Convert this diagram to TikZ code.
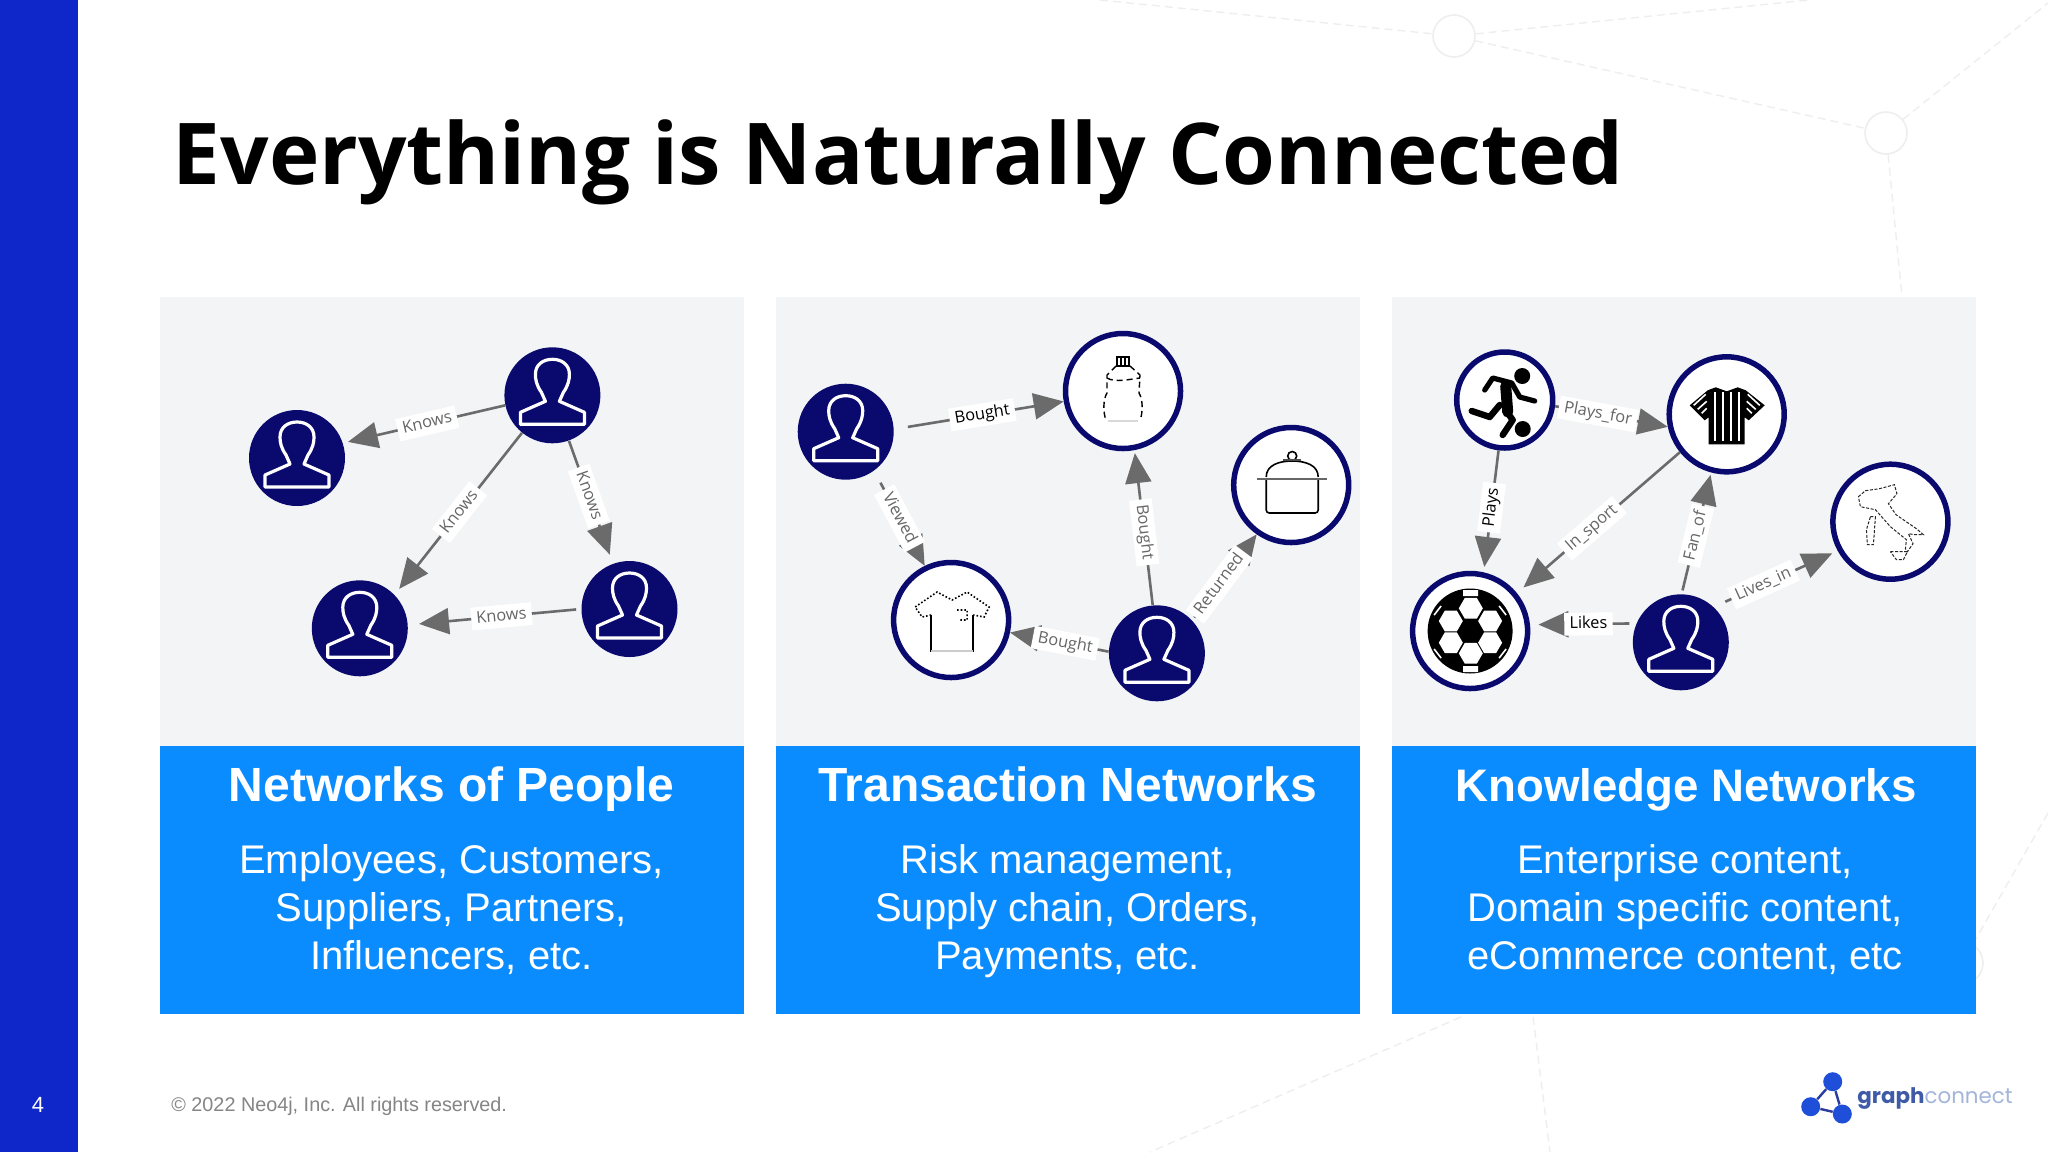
\documentclass[tikz,border=0pt]{standalone}
\usepackage{fontspec}
\setmainfont{Liberation Sans}
\newfontfamily\opensans{Open Sans}
\newfontfamily\logofont{Poppins}
\usetikzlibrary{arrows.meta}

\definecolor{bandblue}{HTML}{0F27C9}
\definecolor{boxblue}{HTML}{0A8CFF}
\definecolor{panelgrey}{HTML}{F3F4F5}
\definecolor{nodenavy}{HTML}{0A0A6E}
\definecolor{edgegrey}{HTML}{6B6B6B}
\definecolor{faintgrey}{HTML}{EDEFEF}
\definecolor{logoblue}{HTML}{1F4FD8}
\definecolor{logodark}{HTML}{2A3C9C}
\definecolor{graphblue}{HTML}{3F5BA8}
\definecolor{connectblue}{HTML}{A3B6DA}

\tikzset{
  panel/.style={fill=panelgrey},
  bluebox/.style={fill=boxblue},
  person node/.style={circle,fill=nodenavy,minimum size=48pt,inner sep=0pt},
  item node/.style={circle,fill=white,draw=nodenavy,line width=2.75pt,minimum size=57.5pt,inner sep=0pt},
  small item/.style={item node,minimum size=48pt},
  logo dot/.style={circle,fill=logoblue,minimum size=9.5pt,inner sep=0pt},
  edge/.style={draw=edgegrey,line width=1.3pt,-{Triangle[length=15pt,width=13pt]}},
  edgelabel/.style={fill=white,sloped,font=\opensans\fontsize{8.2}{10}\selectfont,text=#1,
    inner xsep=2.6pt,inner ysep=1.5pt,text height=6.4pt,text depth=2pt},
  edgelabel/.default=edgegrey!95!black,
  headtext/.style={text=white,font=\bfseries\fontsize{24}{28}\selectfont,anchor=base},
  bodytext/.style={text=white,font=\fontsize{20}{24}\selectfont,anchor=base},
  faintline/.style={draw=faintgrey,line width=.7pt,dash pattern=on 4pt off 2.5pt},
  faintdot/.style={circle,draw=faintgrey,line width=.8pt,minimum size=21pt,inner sep=0pt},
  % icons, drawn around the centre of their node
  person/.pic={
    \draw[white,line width=1.6pt,line join=round]
      (-32,29) -- (-32,17) -- (-7,6) -- (-11,-3)
      .. controls (-16,-10) and (-17,-16) .. (-17,-21)
      .. controls (-17,-31) and (-9,-36) .. (0,-36)
      .. controls (9,-36) and (17,-31) .. (17,-21)
      .. controls (17,-16) and (16,-10) .. (11,-3)
      -- (7,6) -- (32,17) -- (32,29) -- cycle;
  },
  bottle/.pic={
    \draw[black,line width=.7pt] (-6,-34) rectangle (6,-25) (-2,-34) -- (-2,-25) (2,-34) -- (2,-25);
    \draw[black,line width=.7pt,densely dashed]
      (-7,-25) -- (-16,-16) -- (-16,2) .. controls (-20,8) and (-20,22) .. (-17,29)
      (7,-25) -- (17,-16) -- (16,2) .. controls (20,8) and (20,22) .. (17,29)
      (-16,-13) .. controls (-8,-8) and (8,-12) .. (17,-13);
    \draw[black!15,line width=1pt] (-15,30) -- (15,30);
  },
  shirt/.pic={
    \draw[black,line width=.7pt] (-20,-5) -- (-20,32) (22,-5) -- (22,32);
    \draw[black,line width=.8pt,densely dotted]
      (-20,-5) -- (-29,-3) -- (-36,-13) -- (-14,-28) -- (1,-20) -- (16,-28) -- (38,-13) -- (33,-3) -- (22,-5)
      (6,-10) -- (16,-10) -- (16,0) -- (8,0);
    \draw[black!20,line width=.8pt] (-20,31) -- (22,31);
  },
  pot/.pic={
    \draw[black,line width=.8pt] (1,-29) circle (4.5);
    \draw[black,line width=.8pt] (-25,-8) .. controls (-25,-20) and (-12,-24) .. (1,-24)
      .. controls (14,-24) and (27,-20) .. (27,-8);
    \draw[black!60,line width=1.4pt] (-34,-6) -- (36,-6);
    \draw[black,line width=.8pt,rounded corners=1.5pt] (-25,-5) -- (-25,28) -- (27,28) -- (27,-5);
    \draw[black!70,line width=1.2pt] (-8,-25) -- (10,-25);
  },
  player/.pic={
    \fill[black] (17.5,-24) circle (8) (18,29) circle (8);
    \draw[black,line width=2.6pt,line cap=round,line join=round]
      (-20,-10) -- (-12,-22) -- (7,-17) -- (15,-3) -- (30,1);
    \draw[black,line width=5.5pt,line cap=round] (1,-14) -- (3,12);
    \draw[black,line width=3.2pt,line cap=round,line join=round]
      (3,13) -- (8,20) -- (-2,35)
      (-5,5) -- (-15,17) -- (-33,11);
  },
  jersey/.pic={
    \fill[black] (-11,-27) -- (-19,-24) -- (-37,-9) -- (-22,6) -- (-18,3) -- (-18,30) -- (18,30)
      -- (18,3) -- (22,6) -- (38,-9) -- (19,-24) -- (11,-27) -- (0,-23) -- cycle;
    \foreach \jx in {-12,-4,4,12}
      \draw[white,line width=1pt] (\jx,-22) -- (\jx,27);
    \draw[white,line width=.8pt] (-33,-9) -- (-21,-20) (-29,-5) -- (-20,-13) (-25,-1) -- (-20,-6)
      (33,-9) -- (21,-20) (29,-5) -- (20,-13) (25,-1) -- (20,-6);
  },
  football/.pic={
    \fill[black] (0,0) circle (42.5);
    \foreach \hx/\hy in {0.7/-22.7,-19.3/-10,20/-10,-19.3/11.7,20/11.7,0.7/22.3}
      \fill[white] (\hx,\hy) +(0:12) -- +(60:12) -- +(120:12) -- +(180:12) -- +(240:12) -- +(300:12) -- cycle;
    \fill[white] (-7,-41) rectangle (8,-35) (-7,35) rectangle (8,41);
    \draw[white,line width=.8pt] (-36,-16) -- (-29,-25) (36,-16) -- (29,-25)
      (-36,18) -- (-29,27) (36,18) -- (29,27);
  },
  italy/.pic={
    \draw[black!85,line width=.5pt,dash pattern=on 1.5pt off .8pt]
      (-32,-25) -- (-25,-31) -- (-11,-33) -- (4,-37) -- (6.5,-28) -- (-2,-18) -- (5.6,-7) -- (26,7) -- (33,13)
      -- (24.5,13) -- (18,12) -- (22.6,22) -- (17,30) -- (15,27) -- (16,18) -- (0,5) -- (-15,-12) -- (-30,-15) -- cycle
      (-20,-5) -- (-15,-5) -- (-17,23) -- (-23,23) -- (-24,8) -- cycle
      (0,30) -- (17,30) -- (13,38) -- (6,38) -- cycle;
  }
}

\begin{document}
\begin{tikzpicture}[x=0.5pt,y=-0.5pt]
  \useasboundingbox (0,0) rectangle (2048,1152);
  \fill[white] (0,0) rectangle (2048,1152);

  % Draw faint network behind the slide
  \node[faintdot] (dota) at (1454,36) {};
  \node[faintdot] (dotb) at (1886,133) {};
  \node[faintdot] (dotc) at (1962,963) {};
  \coordinate (fa) at (1100,0);
  \coordinate (fb) at (1809,0);
  \coordinate (fc) at (2048,3);
  \coordinate (fd) at (1902,297);
  \coordinate (fe) at (2048,813);
  \coordinate (ff) at (1461,1017);
  \coordinate (fg) at (1150,1152);
  \coordinate (fh) at (1533,1017);
  \coordinate (fi) at (1550,1152);
  \draw[faintline] (fa) -- (dota) -- (fb);
  \draw[faintline] (dota) -- (dotb) -- (fc);
  \draw[faintline] (dotb) -- (fd);
  \draw[faintline] (fe) -- (dotc);
  \draw[faintline] (ff) -- (fg);
  \draw[faintline] (fh) -- (fi);

  % Draw side band
  \fill[bandblue] (0,0) rectangle (78,1152);
  \node[text=white,font=\fontsize{11}{13}\selectfont] (pagenum) at (38,1105) {4};

  % Draw title
  \node[anchor=base west,inner sep=0pt,font=\opensans\bfseries\fontsize{42.65}{50}\selectfont] (title) at (172.5,184)
    {Everything is Naturally Connected};

  % Draw panels
  \foreach \px in {159.5,775.5,1391.5}{
    \fill[panel] (\px,296.5) rectangle ++(584.5,449.5);
    \fill[bluebox] (\px,746) rectangle ++(584.5,268);
  }

  % Draw panel texts
  \node[headtext] (heada) at (451.5,801) {Networks of People};
  \node[bodytext] (bodyaa) at (451.5,873) {Employees, Customers,};
  \node[bodytext] (bodyab) at (451.5,921) {Suppliers, Partners,};
  \node[bodytext] (bodyac) at (451.5,969) {Influencers, etc.};
  \node[headtext] (headb) at (1067.5,801) {Transaction Networks};
  \node[bodytext] (bodyba) at (1067.5,873) {Risk management,};
  \node[bodytext] (bodybb) at (1067.5,921) {Supply chain, Orders,};
  \node[bodytext] (bodybc) at (1067.5,969) {Payments, etc.};
  \node[headtext,font=\bfseries\fontsize{22.8}{28}\selectfont] (headc) at (1686,801) {Knowledge Networks};
  \node[bodytext] (bodyca) at (1685,873) {Enterprise content,};
  \node[bodytext] (bodycb) at (1685,921) {Domain specific content,};
  \node[bodytext] (bodycc) at (1685,969) {eCommerce content, etc};

  % Draw people network
  \node[person node] (pa) at (552.4,395.3) {};
  \node[person node] (pb) at (297,458) {};
  \node[person node] (pc) at (359.8,628.3) {};
  \node[person node] (pd) at (629.5,609) {};
  \foreach \pn in {pa,pb,pc,pd}
    \pic at (\pn) {person};
  \draw[edge,shorten >=2.5pt] (pa.192) -- node[edgelabel,pos=.48] (la) {Knows} (pb.18);
  \draw[edge,shorten >=3.7pt] (pa.231) -- node[edgelabel,pos=.49] (lb) {Knows} (pc.44);
  \draw[edge,shorten >=4.7pt] (pa.-70) -- node[edgelabel,pos=.45] (lc) {Knows} (pd.110);
  \draw[edge,shorten <=2.5pt,shorten >=5.5pt] (pd.180) -- node[edgelabel,pos=.46] (ld) {Knows} (pc.4);

  % Draw transaction network
  \node[person node] (ta) at (845.7,431.7) {};
  \node[item node] (tbottle) at (1123,391) {};
  \node[item node] (tpot) at (1291.2,485) {};
  \node[item node] (tshirt) at (951.1,620) {};
  \node[person node] (te) at (1156.9,653.3) {};
  \pic at (ta) {person};
  \pic at (te) {person};
  \pic at (tbottle) {bottle};
  \pic at (tpot) {pot};
  \pic at (tshirt) {shirt};
  \draw[edge,shorten <=7pt] (ta.3) -- node[edgelabel=black,pos=.52] (lf) {Bought} (tbottle.190);
  \draw[edge,shorten <=6.7pt] (ta.-54) -- node[edgelabel,pos=.5] (lg) {Viewed} (tshirt.116);
  \draw[edge] (te.178) -- node[edgelabel,pos=.44] (lh) {Bought} (tshirt.-12);
  \draw[edge,shorten >=1.5pt] (te.95) -- node[edgelabel,pos=.47] (li) {Bought} (tbottle.-79);
  \draw[edge,shorten <=1.7pt] (te.43) -- node[edgelabel,pos=.42] (lj) {Returned} (tpot.235);

  % Draw knowledge network
  \node[small item] (kplayer) at (1504.7,400) {};
  \node[item node] (kjersey) at (1726.7,414.3) {};
  \node[item node] (kitaly) at (1890.4,521.7) {};
  \node[item node] (kball) at (1470.1,631) {};
  \node[person node] (ke) at (1680.8,642.3) {};
  \pic at (ke) {person};
  \pic at (kplayer) {player};
  \pic at (kjersey) {jersey};
  \pic at (kitaly) {italy};
  \pic at (kball) {football};
  \draw[edge,shorten >=2.7pt] (kplayer.-97) -- node[edgelabel=black,pos=.47] (lk) {Plays} (kball.77);
  \draw[edge] (kplayer.-7) -- node[edgelabel,pos=.38] (ll) {Plays\_for} (kjersey.192);
  \draw[edge,shorten >=4.3pt] (kjersey.219) -- node[edgelabel,pos=.54] (lm) {In\_sport} (kball.39);
  \draw[edge,shorten <=1.8pt,shorten >=1.2pt] (ke.89) -- node[edgelabel,pos=.48] (ln) {Fan\_of} (kjersey.255);
  \draw[edge,shorten <=6.3pt,shorten >=3pt] (ke.47) -- node[edgelabel,pos=.4] (lo) {Lives\_in} (kitaly.209);
  \draw[edge,shorten <=3.5pt,shorten >=4.2pt] (ke.157) -- node[edgelabel=black,pos=.45] (lp) {Likes} (kball.6);

  % Draw footer
  \node[anchor=base west,inner sep=0pt,text=black!48,font=\fontsize{9.9}{12}\selectfont] (copy) at (171,1111)
    {© 2022 Neo4j, Inc. All rights reserved.};

  % Draw logo
  \node[logo dot] (logoa) at (1832.7,1081.7) {};
  \node[logo dot] (logob) at (1810.7,1106.7) {};
  \node[logo dot] (logoc) at (1842.3,1114) {};
  \draw[logodark,line width=1.2pt] (logoa) -- (logob) -- (logoc) -- (logoa);
  \node[anchor=base west,inner sep=0pt,font=\logofont\fontsize{10.7}{13}\selectfont] (logotext) at (1857,1103)
    {\textcolor{graphblue}{\textbf{graph}}\textcolor{connectblue}{connect}};
\end{tikzpicture}
\end{document}
